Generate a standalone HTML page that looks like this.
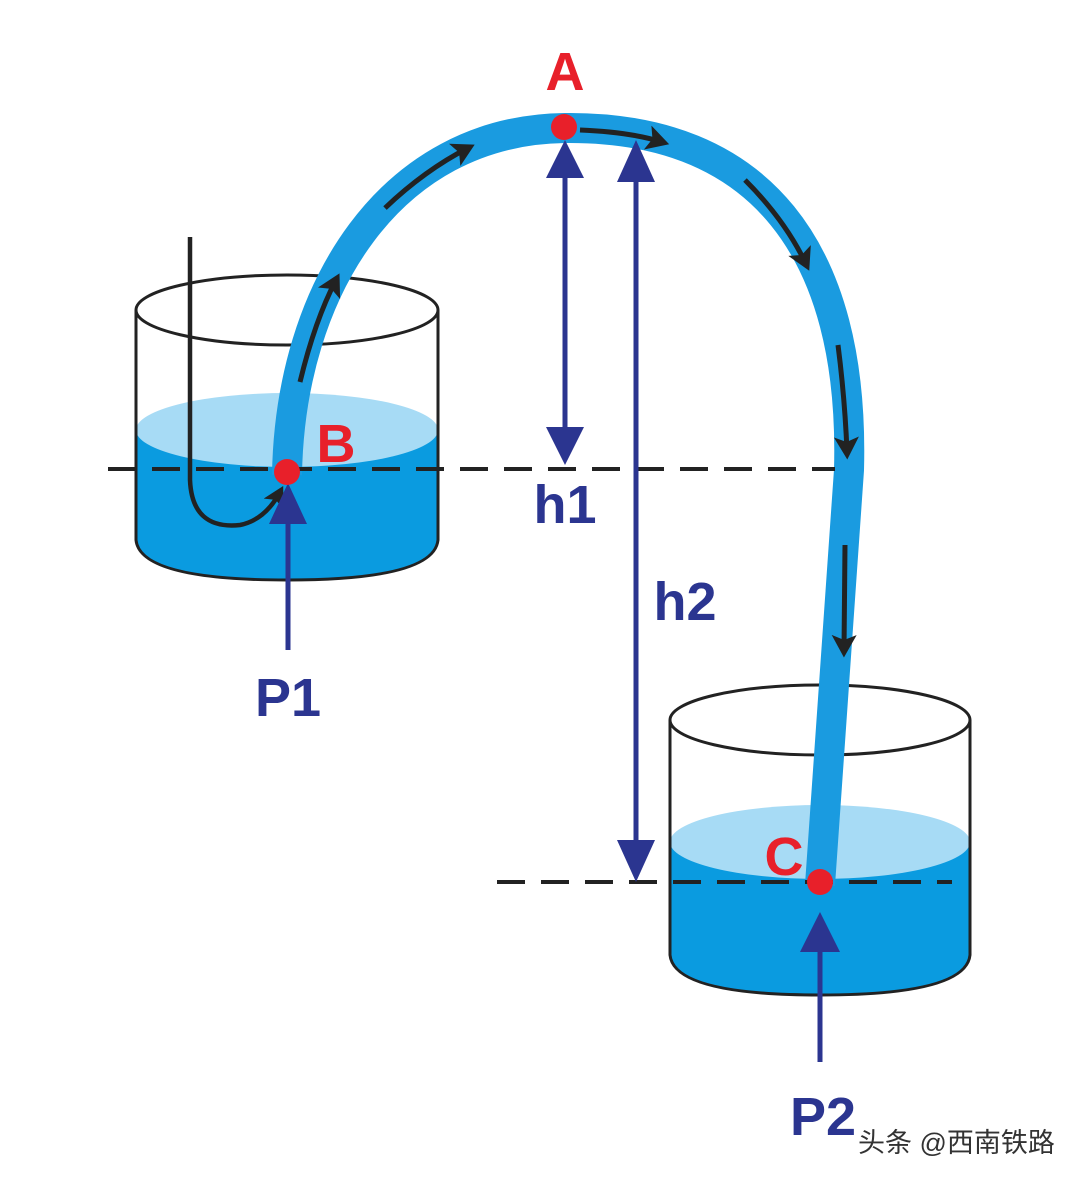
<!DOCTYPE html>
<html><head><meta charset="utf-8"><style>html,body{margin:0;padding:0;background:#fff}svg{display:block}</style></head><body>
<svg width="1080" height="1181" viewBox="0 0 1080 1181" xmlns="http://www.w3.org/2000/svg">
<defs>
<marker id="bk" markerWidth="5" markerHeight="5" refX="3" refY="2.5" orient="auto" markerUnits="strokeWidth"><path d="M0,0 L4.5,2.5 L0,5 L1,2.5 Z" fill="#222"/></marker>
</defs>
<!-- left beaker -->
<path d="M136,430 L136,540 Q140,580 287,580 Q434,580 438,540 L438,430 Z" fill="#0a9be0"/>
<ellipse cx="287" cy="430" rx="151" ry="37" fill="#a7dbf5"/>
<path d="M136,310 L136,540 Q140,580 287,580 Q434,580 438,540 L438,310" fill="none" stroke="#222" stroke-width="3"/>
<ellipse cx="287" cy="310" rx="151" ry="35" fill="none" stroke="#222" stroke-width="3"/>
<!-- right beaker -->
<path d="M670,842 L670,955 Q674,995 820,995 Q966,995 970,955 L970,842 Z" fill="#0a9be0"/>
<ellipse cx="820" cy="842" rx="150" ry="37" fill="#a7dbf5"/>
<path d="M670,720 L670,955 Q674,995 820,995 Q966,995 970,955 L970,720" fill="none" stroke="#222" stroke-width="3"/>
<ellipse cx="820" cy="720" rx="150" ry="35" fill="none" stroke="#222" stroke-width="3"/>
<!-- tube -->
<path d="M287,475 C290,290 390,130 565,128 C760,126 855,250 849,470 L820,885" fill="none" stroke="#1a9be0" stroke-width="30"/>
<!-- hook -->
<path d="M190,237 L190,480 Q192,530 240,525 Q265,520 280,492" fill="none" stroke="#222" stroke-width="4.5" marker-end="url(#bk)"/>
<!-- flow arrows -->
<g fill="none" stroke="#222" stroke-width="5" marker-end="url(#bk)">
<path d="M300,382 Q315,320 336,280"/>
<path d="M385,208 Q425,170 468,148"/>
<path d="M580,130 Q630,132 662,142"/>
<path d="M745,180 Q785,220 806,264"/>
<path d="M838,345 Q845,400 847,452"/>
<path d="M845,545 L844,650"/>
</g>
<!-- dashed lines -->
<g stroke="#222" stroke-width="4" stroke-dasharray="28,16">
<line x1="108" y1="469" x2="835" y2="469"/>
<line x1="497" y1="882" x2="952" y2="882"/>
</g>
<!-- navy arrows -->
<g stroke="#2b3590" stroke-width="5" fill="#2b3590">
<line x1="565" y1="170" x2="565" y2="430"/>
<polygon points="565,140 546,178 584,178" stroke="none"/>
<polygon points="565,465 546,427 584,427" stroke="none"/>
<line x1="636" y1="170" x2="636" y2="850"/>
<polygon points="636,140 617,182 655,182" stroke="none"/>
<polygon points="636,882 617,840 655,840" stroke="none"/>
<line x1="288" y1="520" x2="288" y2="650"/>
<polygon points="288,483 269,524 307,524" stroke="none"/>
<line x1="820" y1="950" x2="820" y2="1062"/>
<polygon points="820,912 800,952 840,952" stroke="none"/>
</g>
<!-- dots -->
<g fill="#e8202a"><circle cx="564" cy="127" r="13"/><circle cx="287" cy="472" r="13"/><circle cx="820" cy="882" r="13"/></g>
<!-- labels -->
<g font-family="Liberation Sans, sans-serif" font-weight="bold" font-size="54" text-anchor="middle">
<text x="565" y="90" fill="#e8202a">A</text>
<text x="336" y="462" fill="#e8202a">B</text>
<text x="784" y="875" fill="#e8202a">C</text>
<text x="565" y="523" fill="#2b3590">h1</text>
<text x="685" y="620" fill="#2b3590">h2</text>
<text x="288" y="716" fill="#2b3590">P1</text>
<text x="823" y="1135" fill="#2b3590">P2</text>
</g>
<text x="858" y="1152" font-family="Liberation Sans, Noto Sans CJK SC, sans-serif" font-size="27" fill="#333">头条 @西南铁路</text>
</svg>
</body></html>
